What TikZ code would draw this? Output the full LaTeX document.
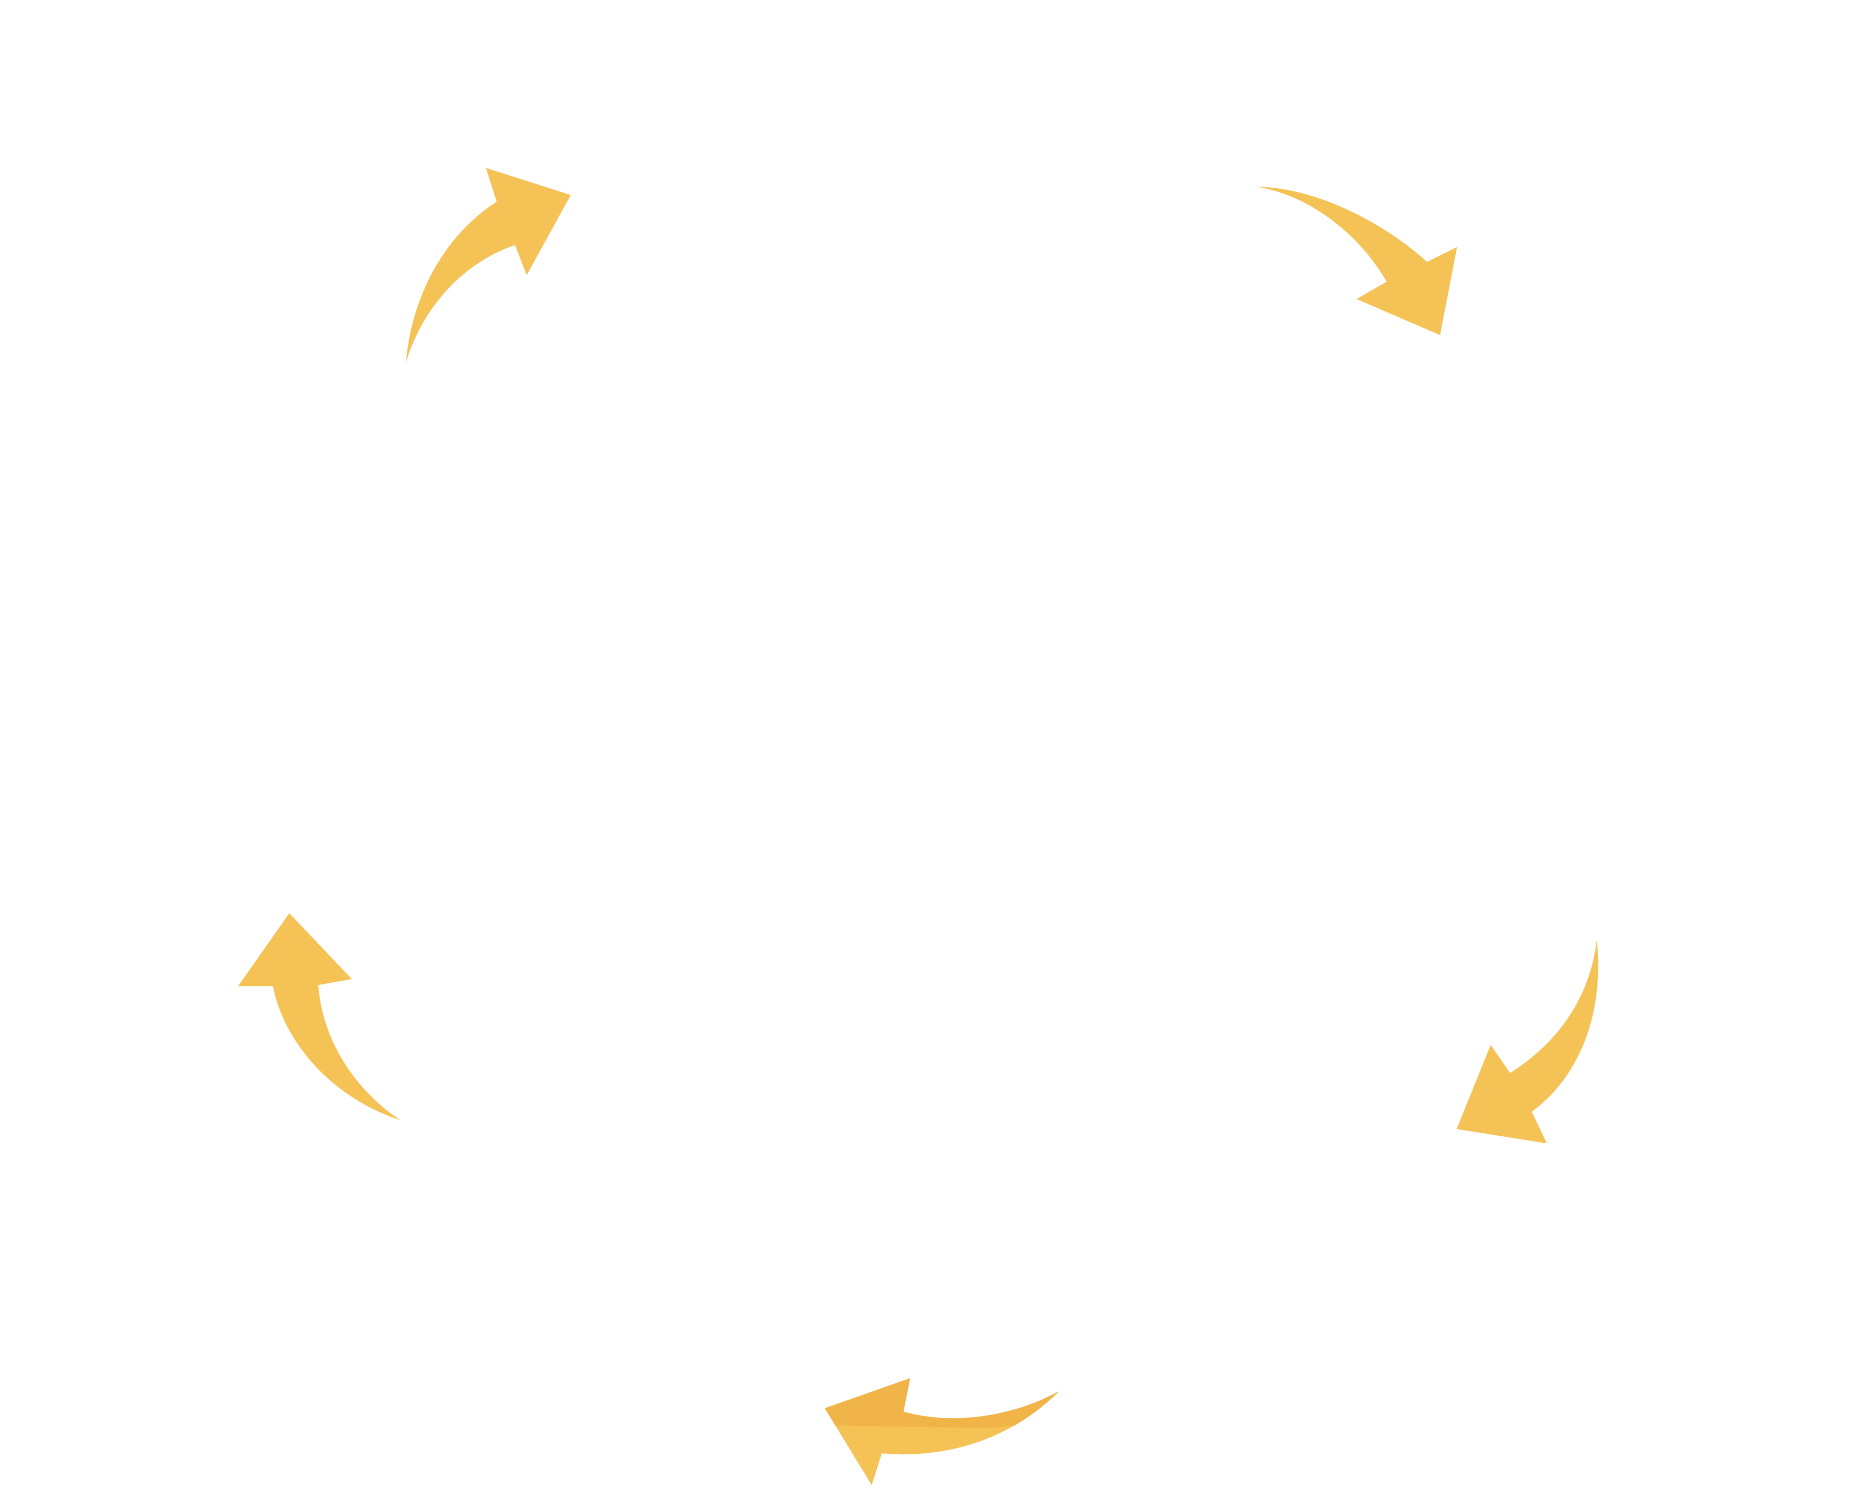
\documentclass[tikz,border=0pt]{standalone}
\usepackage{tikz}

\definecolor{arrowyellow}{RGB}{245,194,86}
\definecolor{arrowamber}{RGB}{240,180,72}

\begin{document}
\begin{tikzpicture}[x=0.01cm,y=-0.01cm]
		\useasboundingbox (0,0) rectangle (1872,1499);
		
		\begin{scope}[every path/.style={fill=arrowyellow}]
			% top left
			\path (406,362) .. controls (412,295) and (445,235) .. (496.7,201.7) -- (486,168) -- (570.7,195) -- (526.7,275) -- (515,245) .. controls (470,260) and (425,300) .. (406,362) -- cycle;
			% top right
			\path (1256.7,186.7) .. controls (1322,188) and (1390,228) .. (1427,262) -- (1457,247) -- (1440,335) -- (1356.7,299) -- (1386.7,281.7) .. controls (1360,235) and (1310,195) .. (1256.7,186.7) -- cycle;
			% right
			\path (1596.7,940) .. controls (1605,1020) and (1575,1080) .. (1531.7,1111.7) -- (1546.7,1143.3) -- (1456.7,1129) -- (1490.7,1045) -- (1510,1073) .. controls (1555,1045) and (1590,1000) .. (1596.7,940) -- cycle;
			% bottom
			\path (1058.3,1391.7) .. controls (1010,1418) and (950,1425) .. (903.3,1411.7) -- (910,1378.3) -- (825,1408.3) -- (871.7,1485) -- (881.7,1453.3) .. controls (960,1460) and (1020,1430) .. (1058.3,1391.7) -- cycle;
			% left
			\path (400,1120) .. controls (325,1095) and (282,1035) .. (273,986) -- (238.3,986) -- (289.3,913.3) -- (351.7,979) -- (318.3,985) .. controls (322,1040) and (355,1090) .. (400,1120) -- cycle;
		\end{scope}
		
		% darker upper half of the bottom arrow
		\begin{scope}
			\clip (1058.3,1391.7) .. controls (1010,1418) and (950,1425) .. (903.3,1411.7) -- (910,1378.3) -- (825,1408.3) -- (871.7,1485) -- (881.7,1453.3) .. controls (960,1460) and (1020,1430) .. (1058.3,1391.7) -- cycle;
			\fill[arrowamber] (810,1360) -- (1070,1360) -- (1070,1420) -- (990,1428) -- (810,1425) -- cycle;
		\end{scope}
	\end{tikzpicture}
\end{document}
